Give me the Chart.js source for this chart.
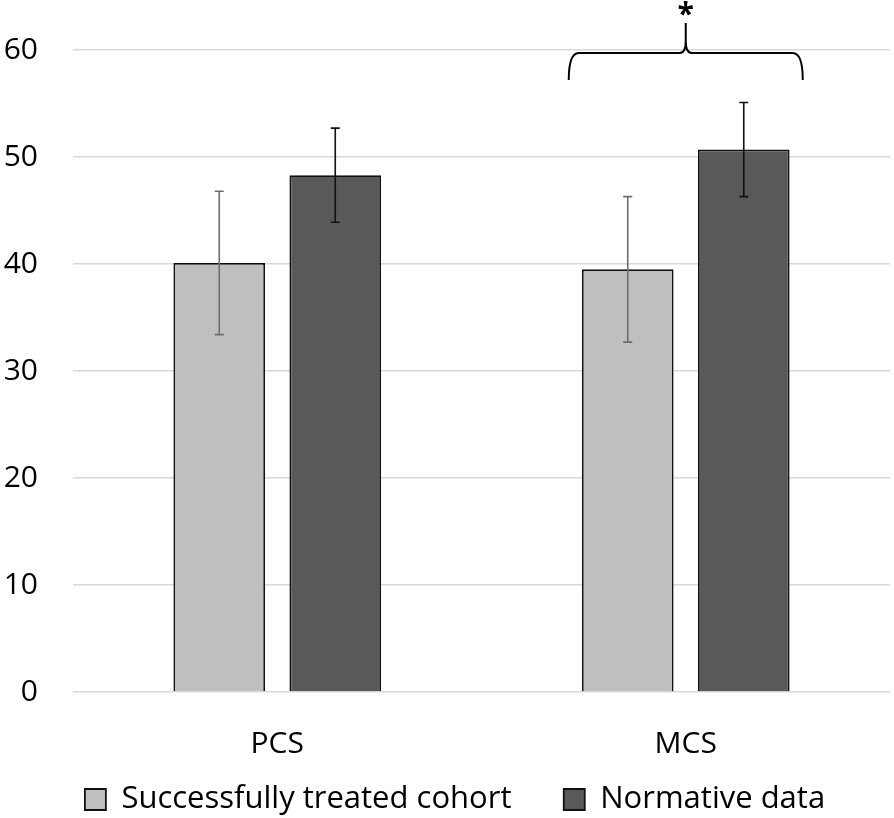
<!DOCTYPE html>
<html>
<head>
<meta charset="utf-8">
<script src="https://cdn.jsdelivr.net/npm/chart.js@4.4.0/dist/chart.umd.min.js"></script>
<style>
  html, body { margin: 0; padding: 0; background: #fff; }
  #wrap { width: 894px; height: 818px; }
</style>
</head>
<body>
<div id="wrap"><canvas id="chart"></canvas></div>
<script>
const categories = ["PCS", "MCS"];
const cohortValues = [40.1, 39.5];
const cohortErrors = [6.7, 6.8];
const normativeValues = [48.3, 50.7];
const normativeErrors = [4.4, 4.4];
const yTicks = [0, 10, 20, 30, 40, 50, 60];

const FONT = "'Open Sans', sans-serif";

// draws the +/- error bars on top of each bar
const errorBars = {
    id: 'errorBars',
    afterDatasetsDraw(chart) {
        const ctx = chart.ctx;
        const y = chart.scales.y;
        chart.data.datasets.forEach((ds, i) => {
            const meta = chart.getDatasetMeta(i);
            meta.data.forEach((bar, j) => {
                const v = ds.data[j], e = ds.errors[j];
                const top = y.getPixelForValue(v + e);
                const bot = y.getPixelForValue(v - e);
                ctx.save();
                ctx.strokeStyle = ds.errorColor;
                ctx.lineWidth = 1.6;
                ctx.beginPath();
                ctx.moveTo(bar.x, top); ctx.lineTo(bar.x, bot);
                ctx.moveTo(bar.x - 4.5, top); ctx.lineTo(bar.x + 4.5, top);
                ctx.moveTo(bar.x - 4.5, bot); ctx.lineTo(bar.x + 4.5, bot);
                ctx.stroke();
                ctx.restore();
            });
        });
    }
};

// curly bracket with asterisk over MCS
const bracket = {
    id: 'bracket',
    afterDraw(chart) {
        const ctx = chart.ctx;
        const cx = chart.scales.x.getPixelForValue(1);
        const yTop = chart.scales.y.getPixelForValue(60);
        const half = 117;
        const l = cx - half, r = cx + half;
        const yb = yTop + 3;
        ctx.save();
        ctx.strokeStyle = '#000';
        ctx.lineWidth = 2;
        ctx.beginPath();
        ctx.moveTo(l, yb + 27);
        ctx.quadraticCurveTo(l, yb, l + 10, yb);
        ctx.lineTo(cx - 6, yb);
        ctx.quadraticCurveTo(cx, yb, cx, yb - 12);
        ctx.lineTo(cx, yb - 30);
        ctx.moveTo(cx, yb - 12);
        ctx.quadraticCurveTo(cx, yb, cx + 6, yb);
        ctx.lineTo(r - 10, yb);
        ctx.quadraticCurveTo(r, yb, r, yb + 27);
        ctx.stroke();
        ctx.fillStyle = '#000';
        ctx.font = "bold 30px " + FONT;
        ctx.textAlign = 'center';
        ctx.textBaseline = 'middle';
        ctx.fillText('*', cx, yb - 38);
        ctx.restore();
    }
};

// legend sits tight under the axis labels, a bit right of centre
const tightLegend = {
    id: 'tightLegend',
    beforeInit(chart) {
        const fit = chart.legend.fit;
        chart.legend.fit = function () {
            fit.call(this);
            this.height -= 7;
        };
    },
    afterLayout(chart) {
        chart.legend.left += 10;
        chart.legend.right += 10;
    }
};

const ctx = document.querySelector('#chart').getContext('2d');
const chart = new Chart(ctx, {
    type: 'bar',
    data: {
        labels: categories,
        datasets: [
            {
                label: "Successfully treated cohort",
                data: cohortValues,
                errors: cohortErrors,
                errorColor: '#6e6e6e',
                backgroundColor: '#bfbfbf',
                borderColor: '#111',
                borderWidth: 1.8,
            },
            {
                label: "Normative data",
                data: normativeValues,
                errors: normativeErrors,
                errorColor: '#111',
                backgroundColor: '#595959',
                borderColor: '#111',
                borderWidth: 1.8,
            }
        ]
    },
    options: {
        responsive: true,
        maintainAspectRatio: false,
        animation: false,
        categoryPercentage: 0.568,
        barPercentage: 0.79,
        layout: { padding: { top: 50, right: 4, left: 0, bottom: 0 } },
        scales: {
            x: {
                grid: { display: false },
                border: { display: false },
                afterFit(axis) { axis.height -= 8; },
                ticks: { color: '#000', font: { family: FONT, size: 30 }, padding: 26 }
            },
            y: {
                min: 0,
                max: 60,
                afterBuildTicks(axis) { axis.ticks = yTicks.map(v => ({ value: v })); },
                afterFit(axis) {
                    axis.width = 73;
                    axis.paddingTop = 0;
                    axis.paddingBottom = 0;
                },
                grid: { color: '#d9d9d9', lineWidth: 1.5, drawTicks: false },
                border: { display: false },
                ticks: { color: '#000', font: { family: FONT, size: 30 }, padding: 35 }
            }
        },
        plugins: {
            legend: {
                position: 'bottom',
                labels: {
                    color: '#000',
                    font: { family: FONT, size: 31 },
                    boxWidth: 21,
                    boxHeight: 21,
                    padding: 4,
                    generateLabels(chart) {
                        const items = Chart.defaults.plugins.legend.labels.generateLabels(chart);
                        items[0].text += '      ';
                        return items;
                    }
                }
            },
            tooltip: { enabled: false }
        }
    },
    plugins: [errorBars, bracket, tightLegend]
});
</script>
</body>
</html>
